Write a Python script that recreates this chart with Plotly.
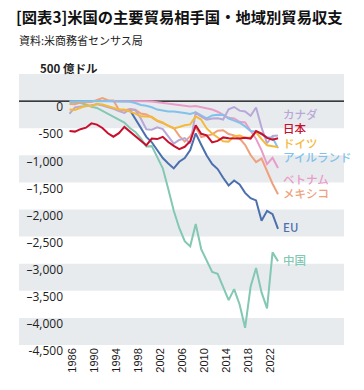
import plotly.graph_objects as go

# ---- data (億ドル) ----
years = list(range(1986, 2025))
tick_years = [1986, 1990, 1994, 1998, 2002, 2006, 2010, 2014, 2018, 2022]
y_tickvals = [0, -500, -1000, -1500, -2000, -2500, -3000, -3500, -4000, -4500]
y_ticktext = ["0", "-500", "–1,000", "–1,500", "–2,000", "–2,500", "–3,000", "–3,500", "–4,000", "-4,500"]

china = [-17, -28, -35, -62, -104, -127, -183, -228, -295, -338,
         -395, -497, -569, -687, -838, -831, -1031, -1241, -1623, -2023,
         -2341, -2585, -2680, -2269, -2730, -2953, -3151, -3187, -3448, -3673,
         -3468, -3752, -4182, -3426, -3080, -3529, -3823, -2791, -2954]
eu = [None] * 11 + [-166, -330, -500, -660, -760, -900, -1050, -1150, -1242,
                    -1120, -1050, -904, -596, -806, -1005, -1162, -1254, -1414, -1556,
                    -1465, -1536, -1693, -1790, -1832, -2207, -2025, -2087, -2356]
mexico = [-52, -57, -26, -22, -19, 21, 54, 17, 13, -158,
          -175, -145, -159, -228, -246, -300, -371, -406, -451, -497,
          -641, -748, -647, -478, -664, -645, -614, -546, -538, -607,
          -632, -691, -807, -995, -1127, -1060, -1306, -1524, -1718]
vietnam = [None] * 6 + [0, 1, 1, 1, 3, -1, -3, -3, -5, -6,
                        -18, -32, -41, -54, -75, -87, -101, -92, -112, -131,
                        -156, -196, -249, -309, -320, -383, -395, -558, -697, -909,
                        -1162, -1046, -1235]
ireland = [-4, -2, 3, 7, 9, 10, 5, 2, -6, -10,
           -12, -13, -35, -73, -87, -114, -156, -181, -193, -194,
           -201, -221, -238, -206, -265, -317, -264, -250, -256, -321,
           -360, -399, -467, -553, -559, -621, -671, -673, -867]
germany = [-156, -163, -122, -83, -94, -49, -64, -96, -125, -154,
           -155, -187, -232, -281, -291, -290, -359, -392, -459, -506,
           -479, -447, -430, -282, -343, -504, -597, -672, -742, -748,
           -648, -636, -676, -672, -575, -702, -814, -832, -848]
japan = [-550, -563, -518, -491, -411, -434, -496, -594, -657, -591,
         -476, -561, -640, -734, -816, -690, -701, -660, -756, -827,
         -886, -843, -741, -447, -603, -632, -763, -734, -670, -686,
         -689, -688, -677, -692, -554, -602, -679, -712, -685]
canada = [-233, -115, -98, -96, -77, -59, -80, -108, -144, -182,
          -217, -155, -166, -321, -519, -528, -482, -517, -658, -785,
          -718, -682, -783, -216, -288, -345, -321, -316, -340, -150,
          -109, -176, -191, -269, -117, -489, -778, -642, -633]

# (name, values, colour, label y position in axis units)
series = [
    ("中国", china, "#82c8b2", -2934),
    ("EU", eu, "#4b70ae", -2330),
    ("メキシコ", mexico, "#eea17c", -1700),
    ("ベトナム", vietnam, "#e99cc9", -1440),
    ("アイルランド", ireland, "#82c2ea", -1025),
    ("カナダ", canada, "#b8a8d8", -235),
    ("ドイツ", germany, "#f5b93a", -775),
    ("日本", japan, "#c8102e", -505),
]

L, R, T, B = 64, 75, 74, 45
W = 364 - L - R
H = 390 - T - B


def px_x(px):
    return (px - L) / W


def px_y(py):
    return (390 - B - py) / H


fig = go.Figure()
for name, vals, col, _ in series:
    fig.add_trace(go.Scatter(x=years, y=vals, mode="lines", name=name,
                             line=dict(color=col, width=2), connectgaps=False,
                             showlegend=False, hoverinfo="skip"))

band = "#e8ebee"
shapes = []
for lo, hi in [(0, 500), (-500, 0), (-1500, -1000), (-2500, -2000), (-3500, -3000), (-4500, -4000)]:
    shapes.append(dict(type="rect", xref="paper", yref="y", x0=px_x(19), x1=px_x(344), y0=lo, y1=hi,
                       fillcolor=band, line=dict(width=0), layer="below"))
shapes.append(dict(type="line", xref="paper", yref="y", x0=px_x(19), x1=px_x(344), y0=0, y1=0,
                   line=dict(color="#000000", width=1.3), layer="below"))

annotations = []
for name, vals, col, ly in series:
    annotations.append(dict(x=2024, y=ly, xref="x", yref="y", text=name, showarrow=False,
                            xanchor="left", yanchor="middle", xshift=3,
                            font=dict(family="Noto Sans CJK JP", size=11.5, color=col, weight=500)))
annotations.append(dict(x=px_x(38), y=500, xref="paper", yref="y", text="500 億ドル", showarrow=False,
                        xanchor="left", yanchor="middle", yshift=6,
                        font=dict(family="Noto Sans CJK JP", size=11.5, color="#222222", weight="bold")))
annotations.append(dict(x=px_x(17), y=px_y(40), xref="paper", yref="paper", text="資料:米商務省センサス局",
                        showarrow=False, xanchor="left", yanchor="middle",
                        font=dict(family="Noto Sans CJK JP", size=11, color="#222222")))

fig.update_layout(
    width=364, height=390,
    margin=dict(l=L, r=R, t=T, b=B, autoexpand=False),
    paper_bgcolor="white", plot_bgcolor="rgba(0,0,0,0)",
    title=dict(text="[図表3]米国の主要貿易相手国・地域別貿易収支", x=16 / 364, xanchor="left",
               xref="container", y=1 - 18 / 390, yanchor="middle", yref="container",
               pad=dict(l=0, r=0, t=0, b=0),
               font=dict(family="Noto Sans CJK JP", size=15.3, color="#111111", weight="bold")),
    shapes=shapes,
    annotations=annotations,
    xaxis=dict(range=[1985, 2026], tickvals=tick_years, ticktext=[str(t) for t in tick_years],
               tickangle=-90, showgrid=False, zeroline=False, showline=False, ticks="",
               ticklabelshift=3, automargin=False,
               tickfont=dict(family="Liberation Sans", size=11, color="#1a1a1a")),
    yaxis=dict(range=[-4500, 500], tickvals=y_tickvals, ticktext=y_ticktext,
               showgrid=False, zeroline=False, showline=False, ticks="",
               ticklabelshift=6, automargin=False,
               tickfont=dict(family="Open Sans", size=12, color="#222222")),
)
fig.write_html("out.html", config={"displayModeBar": False},
               post_script="document.body.style.margin='0';document.body.style.overflow='hidden';")
